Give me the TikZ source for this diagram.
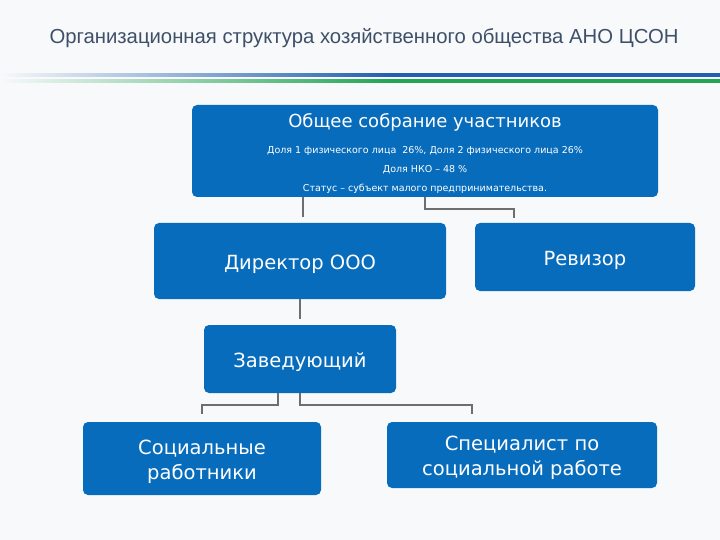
\documentclass[tikz,border=0pt]{standalone}
\usepackage{fontspec}
\setmainfont{Liberation Sans}
\newfontfamily\boxfont{DejaVu Sans}
\usetikzlibrary{positioning}
\definecolor{pagebg}{RGB}{248,249,250}
\definecolor{boxblue}{RGB}{8,108,188}
\definecolor{titlecol}{RGB}{62,79,105}
\definecolor{linkgray}{RGB}{110,110,110}
\definecolor{stripeblue}{RGB}{35,95,175}
\definecolor{stripegreen}{RGB}{35,165,85}
\pgfdeclarehorizontalshading{bluestripe}{100bp}{color(0bp)=(pagebg); color(25bp)=(pagebg); color(52bp)=(stripeblue); color(100bp)=(stripeblue)}
\pgfdeclarehorizontalshading{greenstripe}{100bp}{color(0bp)=(pagebg); color(25bp)=(pagebg); color(52bp)=(stripegreen); color(100bp)=(stripegreen)}
\tikzset{
  orgbox/.style={fill=boxblue, rounded corners=5pt, text=white, align=center, inner sep=0pt,
    text height=21pt, text depth=5pt, font=\boxfont\fontsize{19.5}{25}\selectfont},
  twoline/.style={text height=46pt},
  headtext/.style={text=white, inner sep=0pt, font=\boxfont\fontsize{18}{22}\selectfont},
  smalltext/.style={text=white, inner sep=0pt, font=\boxfont\fontsize{9.5}{11}\selectfont},
  link/.style={draw=linkgray, line width=2pt}
}
\begin{document}
\begin{tikzpicture}[x=1pt, y=-1pt]
      \fill[pagebg] (0,0) rectangle (720,540);
      \useasboundingbox (0,0) rectangle (720,540);
      \node[text=titlecol, font=\fontsize{20.3}{24}\selectfont] (title) at (364,38) {Организационная структура хозяйственного общества АНО ЦСОН};
      \shade[shading=bluestripe] (0,73.5) rectangle (720,76.5);
      \shade[shading=greenstripe] (0,79.5) rectangle (720,82.5);

      \node[orgbox, minimum width=466pt, minimum height=92pt] (meet) at (425,151) {};
      \node[headtext] (meethead) at (425,122.5) {Общее собрание участников};
      \node[smalltext] (share12) at (425,151) {Доля 1 физического лица \ 26\%, Доля 2 физического лица 26\%};
      \node[smalltext] (share3) at (425,170) {Доля НКО – 48 \%};
      \node[smalltext] (status) at (425,188.5) {Статус – субъект малого предпринимательства.};

      \node[orgbox, minimum width=292pt, minimum height=76pt] (dir) at (300,261) {Директор ООО};
      \node[orgbox, minimum width=220pt, minimum height=68pt] (rev) at (585,257) {Ревизор};
      \node[orgbox, minimum width=192pt, minimum height=68pt] (zav) at (300,359) {Заведующий};
      \node[orgbox, twoline, minimum width=238pt, minimum height=73pt] (soc) at (202,458.5) {Социальные\\работники};
      \node[orgbox, twoline, minimum width=270pt, minimum height=66pt] (spec) at (522,455) {Специалист по\\социальной работе};

      \draw[link] ([xshift=3pt]dir.north |- meet.south) -- ([xshift=3pt,yshift=6pt]dir.north);
      \draw[link] (meet.south) -- ++(0,12) -| ([xshift=-71pt,yshift=5pt]rev.north);
      \draw[link] (dir.south) -- ([yshift=6pt]zav.north);
      \draw[link] ([xshift=-22pt]zav.south) -- ++(0,12) -| ([yshift=8pt]soc.north);
      \draw[link] (zav.south) -- ++(0,12) -| ([xshift=-50pt,yshift=8pt]spec.north);
    \end{tikzpicture}
\end{document}
